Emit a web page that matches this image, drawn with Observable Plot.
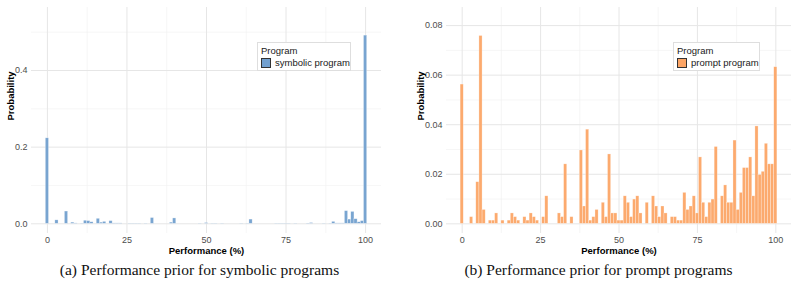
<!DOCTYPE html>
<html>
<head>
<meta charset="utf-8">
<script src="https://cdn.jsdelivr.net/npm/d3@7"></script>
<script src="https://cdn.jsdelivr.net/npm/@observablehq/plot@0.6"></script>
<style>
  html, body { margin: 0; padding: 0; background: #fff; }
  #wrap { position: relative; width: 798px; height: 293px; overflow: hidden; font-family: "Liberation Sans", Arial, sans-serif; }
  .panel { position: absolute; top: 0; }
  .legend { position: absolute; background: #fff; border: 1px solid #dedede; box-sizing: border-box; font-size: 9.5px; color: #1a1a1a; }
  .legend .ttl { position: absolute; left: 3px; top: 2px; }
  .legend .key { position: absolute; left: 3px; top: 15px; width: 10px; height: 10px; box-sizing: border-box; border: 0.8px solid #333; }
  .legend .lab { position: absolute; left: 17px; top: 14px; white-space: nowrap; }
  .cap { position: absolute; top: 261px; width: 399px; text-align: center; font-family: "Liberation Serif", "Times New Roman", serif; font-size: 15.5px; color: #111; }
</style>
</head>
<body>
<div id="wrap">
  <div id="left" class="panel" style="left:0px"></div>
  <div id="right" class="panel" style="left:399px"></div>
  <div class="legend" style="left:257px; top:42px; width:94px; height:29px;">
    <div class="ttl">Program</div>
    <div class="key" style="background:#72a0cf"></div>
    <div class="lab">symbolic program</div>
  </div>
  <div class="legend" style="left:673px; top:42px; width:87px; height:29px;">
    <div class="ttl">Program</div>
    <div class="key" style="background:#fca566"></div>
    <div class="lab">prompt program</div>
  </div>
  <div class="cap" style="left:0px">(a) Performance prior for symbolic programs</div>
  <div class="cap" style="left:399px">(b) Performance prior for prompt programs</div>
</div>
<script>
// ---- data (performance bin in %, probability) ----
const symbolicBins = [0, 3, 6, 8, 9, 11, 12, 13, 14, 16, 17, 18, 20, 21, 22, 23, 26, 27, 28, 29, 31, 33, 39, 40, 48, 50, 52, 53, 55, 61, 63, 64, 72, 73, 74, 75, 76, 78, 82, 83, 87, 89, 90, 91, 92, 93, 94, 95, 96, 97, 98, 99, 100];
const symbolicProb = [0.223, 0.009, 0.032, 0.003, 0.001, 0.0006, 0.008, 0.007, 0.004, 0.013, 0.003, 0.005, 0.007, 0.001, 0.001, 0.001, 0.0006, 0.0006, 0.0006, 0.0006, 0.0006, 0.015, 0.003, 0.014, 0.0006, 0.002, 0.0006, 0.0006, 0.0006, 0.0006, 0.0006, 0.011, 0.0006, 0.0006, 0.0006, 0.0006, 0.0006, 0.0006, 0.0008, 0.002, 0.0006, 0.0006, 0.005, 0.001, 0.001, 0.001, 0.033, 0.011, 0.031, 0.012, 0.004, 0.007, 0.491];

const promptBins = [0, 3, 5, 6, 7, 9, 10, 11, 13, 15, 16, 17, 18, 20, 21, 22, 23, 24, 26, 27, 31, 32, 33, 35, 38, 39, 40, 41, 42, 43, 45, 46, 47, 48, 49, 50, 51, 52, 53, 54, 55, 56, 57, 59, 61, 62, 63, 64, 65, 67, 68, 69, 70, 71, 72, 73, 74, 75, 76, 77, 78, 79, 80, 81, 83, 84, 85, 86, 87, 88, 89, 90, 91, 92, 93, 94, 95, 96, 97, 98, 99, 100];
const promptProb = [0.0562, 0.0027, 0.0168, 0.0758, 0.0056, 0.0013, 0.0013, 0.0042, 0.0013, 0.0013, 0.0042, 0.0027, 0.0013, 0.0027, 0.0013, 0.0042, 0.0027, 0.0013, 0.0027, 0.0111, 0.0042, 0.0027, 0.024, 0.0027, 0.0296, 0.007, 0.038, 0.0013, 0.0027, 0.0056, 0.0085, 0.0027, 0.028, 0.0042, 0.0042, 0.0013, 0.0013, 0.0111, 0.0085, 0.0027, 0.0098, 0.0111, 0.0042, 0.0085, 0.0111, 0.007, 0.0027, 0.007, 0.0042, 0.0027, 0.0027, 0.0013, 0.0013, 0.0125, 0.0056, 0.007, 0.0111, 0.0042, 0.0268, 0.0085, 0.0027, 0.0085, 0.0098, 0.031, 0.0111, 0.0155, 0.0085, 0.0085, 0.0336, 0.0056, 0.0125, 0.0225, 0.0225, 0.0268, 0.0111, 0.0393, 0.0197, 0.021, 0.0323, 0.024, 0.024, 0.0632];

const xTicks = [0, 25, 50, 75, 100];
const xMinor = [12.5, 37.5, 62.5, 87.5];
const symYTicks = [0, 0.2, 0.4];
const symYMinor = [0.1, 0.3, 0.5];
const promptYTicks = [0, 0.02, 0.04, 0.06, 0.08];
const promptYMinor = [0.01, 0.03, 0.05, 0.07];

function panel({bins, probs, color, yDomain, yTicks, yMinor, yFmt, marginLeft, marginRight, width, titleDx}) {
  const data = bins.map((b, i) => ({bin: b, p: probs[i]}));
  return Plot.plot({
    width, height: 262,
    marginTop: 7, marginBottom: 29, marginLeft, marginRight,
    style: {fontFamily: "'Liberation Sans', Arial, sans-serif", fontSize: "9px", color: "#4d4d4d", background: "white"},
    x: {domain: [-5, 105]},
    y: {domain: yDomain},
    marks: [
      Plot.gridX(xMinor, {stroke: "#f0f0f0", strokeOpacity: 1, strokeWidth: 0.6}),
      Plot.gridY(yMinor, {stroke: "#f0f0f0", strokeOpacity: 1, strokeWidth: 0.6}),
      Plot.gridX(xTicks, {stroke: "#e6e6e6", strokeOpacity: 1, strokeWidth: 1}),
      Plot.gridY(yTicks, {stroke: "#e6e6e6", strokeOpacity: 1, strokeWidth: 1}),
      Plot.rectY(data, {x1: d => d.bin - 0.5, x2: d => d.bin + 0.5, y1: 0, y2: "p", fill: color, fillOpacity: 0.95, stroke: "white", strokeOpacity: 0.55, strokeWidth: 0.5}),
      Plot.axisX(xTicks, {tickSize: 0, tickPadding: 3, label: null, fill: "#4d4d4d"}),
      Plot.axisY(yTicks, {tickSize: 0, tickPadding: 4, label: null, tickFormat: yFmt, fill: "#4d4d4d"}),
      Plot.text(["Performance (%)"], {frameAnchor: "bottom", dy: 20, fontWeight: "bold", fill: "#000", fontSize: 9.5}),
      Plot.text(["Probability"], {frameAnchor: "left", dx: titleDx, rotate: -90, fontWeight: "bold", fill: "#000", fontSize: 9.5})
    ]
  });
}

document.getElementById("left").appendChild(panel({
  bins: symbolicBins, probs: symbolicProb, color: "#72a0cf",
  yDomain: [-0.0253, 0.5644], yTicks: symYTicks, yMinor: symYMinor, yFmt: d3.format(".1f"),
  marginLeft: 31, marginRight: 18, width: 399, titleDx: -21
}));
document.getElementById("right").appendChild(panel({
  bins: promptBins, probs: promptProb, color: "#fca566",
  yDomain: [-0.0039, 0.0873], yTicks: promptYTicks, yMinor: promptYMinor, yFmt: d3.format(".2f"),
  marginLeft: 47, marginRight: 7, width: 399, titleDx: -26
}));
</script>
</body>
</html>
